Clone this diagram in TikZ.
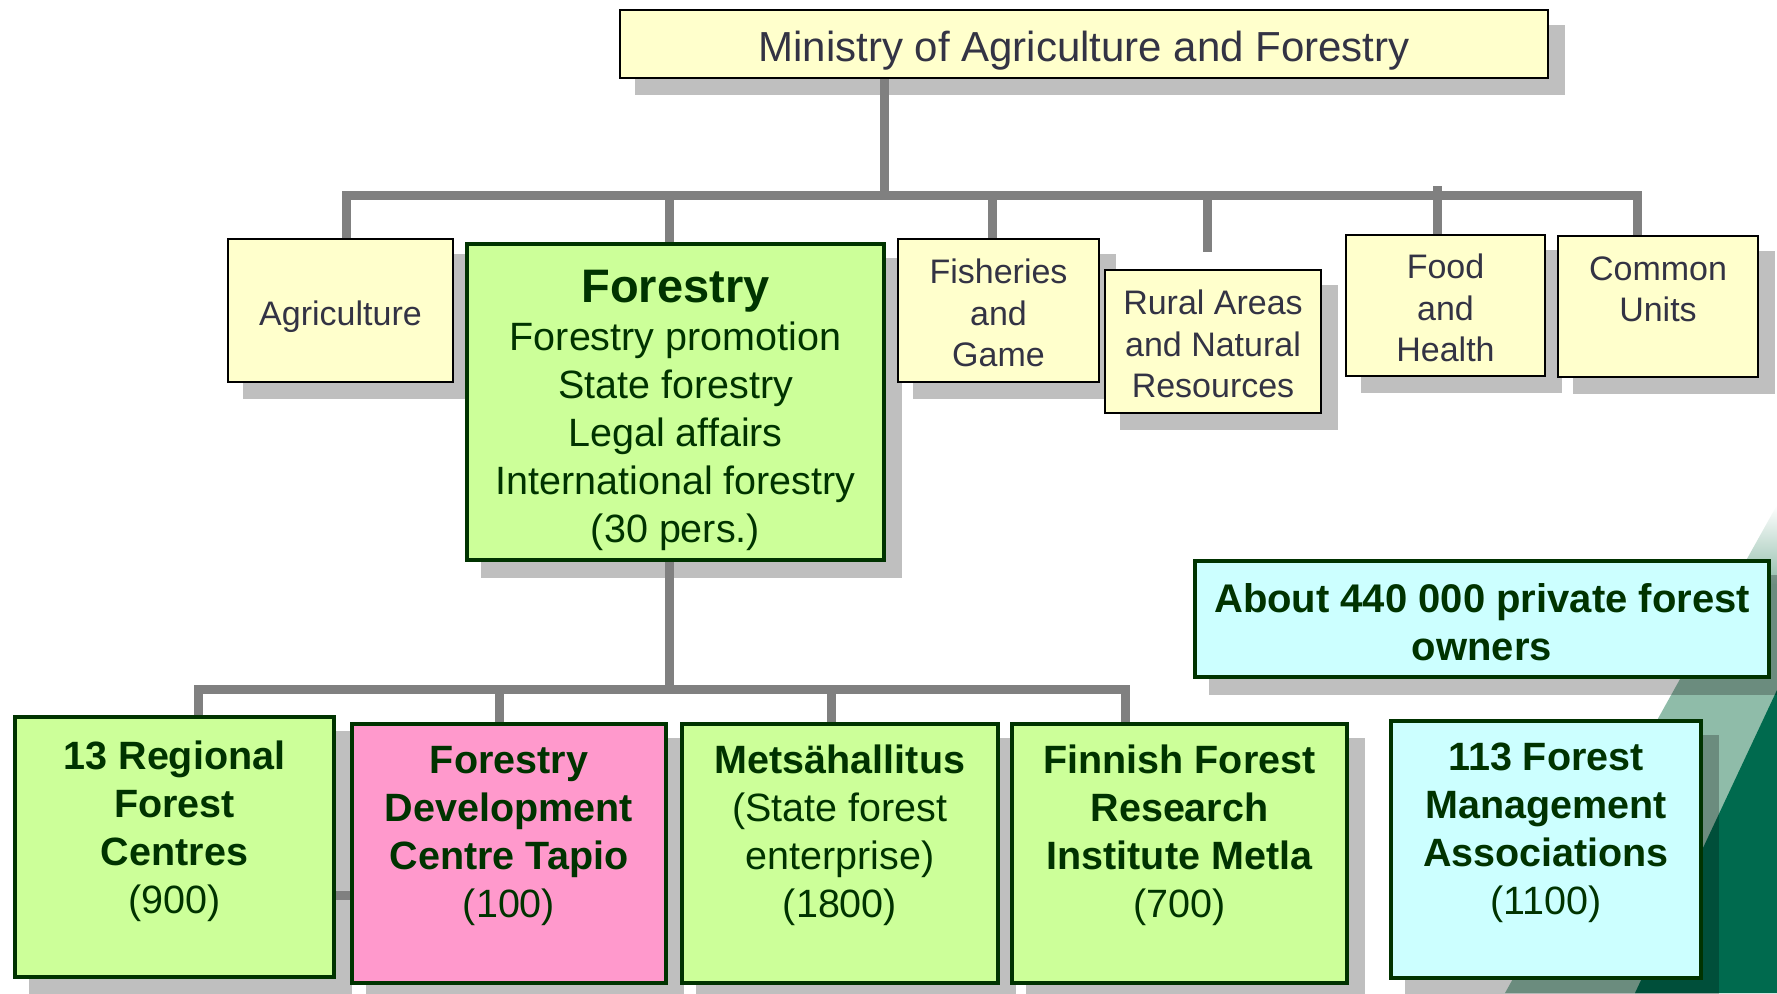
\documentclass[tikz,border=0pt]{standalone}
\usepackage{fontspec}
\setmainfont{Liberation Sans}
\usetikzlibrary{backgrounds}
\definecolor{yfill}{HTML}{FFFFCC}
\definecolor{gfill}{HTML}{CCFF99}
\definecolor{pfill}{HTML}{FF99CC}
\definecolor{cfill}{HTML}{CCFFFF}
\definecolor{dgreen}{HTML}{003300}
\definecolor{ytext}{HTML}{333344}
\definecolor{linegray}{HTML}{808080}
\definecolor{cornerdark}{HTML}{006A4E}
\definecolor{cornerlight}{HTML}{8FBCA9}
\tikzset{
  conn/.style={draw=linegray, line width=9pt},
  shd/.style={fill=black, fill opacity=0.25},
  ybox/.style={draw=black, line width=1.5pt, fill=yfill, inner sep=0pt},
  ytxt/.style={text=ytext, inner sep=0pt, align=center, font=\fontsize{34}{41.5}\selectfont},
  gbox/.style={draw=dgreen, line width=4.5pt, fill=gfill, inner sep=0pt},
  btxt/.style={text=dgreen, inner sep=0pt, align=center, font=\fontsize{39.5}{48}\selectfont},
}
\begin{document}
\begin{tikzpicture}[x=1pt,y=-1pt]
\useasboundingbox (0,0) rectangle (1777,993);

% top level
\node[ybox, minimum width=928pt, minimum height=68pt] (min) at (1084,44) {};
\node[ytxt, font=\fontsize{42}{50}\selectfont] (minT) at ([yshift=-7pt]min.center) {Ministry of Agriculture and Forestry};

% departments
\node[ybox, minimum width=225pt, minimum height=143pt] (agr) at (340.5,310.5) {};
\node[ytxt] (agrT) at ([yshift=-6pt]agr.center) {Agriculture};
\node[gbox, minimum width=417pt, minimum height=316pt] (for) at (675.5,402) {};
\node[btxt] (forT) at ([yshift=-8.5pt]for.center) {{\fontsize{47}{51}\selectfont\bfseries Forestry}\\[0.5pt]Forestry promotion\\State forestry\\Legal affairs\\International forestry\\(30 pers.)};
\node[ybox, minimum width=201pt, minimum height=143pt] (fis) at (998.5,310.5) {};
\node[ytxt] (fisT) at ([yshift=-2.5pt]fis.center) {Fisheries\\and\\Game};
\node[ybox, minimum width=216pt, minimum height=143pt] (rur) at (1213,341.5) {};
\node[ytxt] (rurT) at ([yshift=-2.5pt]rur.center) {Rural Areas\\and Natural\\Resources};
\node[ybox, minimum width=199pt, minimum height=141pt] (foo) at (1445.5,305.5) {};
\node[ytxt] (fooT) at ([yshift=-2.5pt]foo.center) {Food\\and\\Health};
\node[ybox, minimum width=200pt, minimum height=141pt] (com) at (1658,306.5) {};
\node[ytxt] (comT) at ([yshift=17pt]com.center) {Common\\Units};

% owners
\node[gbox, fill=cfill, minimum width=574pt, minimum height=116pt] (own) at (1482,619) {};
\node[btxt, font=\fontsize{40}{48}\selectfont\bfseries] (ownT) at ([yshift=-3pt]own.center) {About 440 000 private forest\\owners};

% bottom organisations
\node[gbox, minimum width=319pt, minimum height=260pt] (reg) at (174.5,847) {};
\node[btxt] (regT) at ([yshift=15.5pt]reg.center) {\textbf{13 Regional}\\\textbf{Forest}\\\textbf{Centres}\\(900)};
\node[gbox, fill=pfill, minimum width=314pt, minimum height=259pt] (dev) at (509,853.5) {};
\node[btxt] (devT) at ([yshift=17.5pt]dev.center) {\textbf{Forestry}\\\textbf{Development}\\\textbf{Centre Tapio}\\(100)};
\node[gbox, minimum width=316pt, minimum height=259pt] (met) at (840,853.5) {};
\node[btxt] (metT) at ([yshift=18.5pt]met.center) {\textbf{Metsähallitus}\\(State forest\\enterprise)\\(1800)};
\node[gbox, minimum width=335pt, minimum height=259pt] (fin) at (1179.5,853.5) {};
\node[btxt] (finT) at ([yshift=18.5pt]fin.center) {\textbf{Finnish Forest}\\\textbf{Research}\\\textbf{Institute Metla}\\(700)};
\node[gbox, fill=cfill, minimum width=310pt, minimum height=257pt] (fma) at (1546,849.5) {};
\node[btxt] (fmaT) at ([yshift=16.5pt]fma.center) {\textbf{113 Forest}\\\textbf{Management}\\\textbf{Associations}\\(1100)};

\begin{scope}[on background layer]
  % decorative corner
  \shade[top color=white, bottom color=cornerlight] (1777,505) -- (1777,585) -- (1732.4,585) -- cycle;
  \fill[cornerlight] (1777,584) -- (1777,993) -- (1505,993) -- (1733,584) -- cycle;
  \fill[cornerdark] (1777,690) -- (1777,993) -- (1635,993) -- cycle;
  % shadows
  \foreach \n in {min,agr,for,fis,rur,foo,com,own,reg,dev,met,fin,fma}
    \fill[shd] ([shift={(16pt,-16pt)}]\n.south west) rectangle ([shift={(16pt,-16pt)}]\n.north east);
  % connectors, upper tree
  \coordinate (t1) at (884,195);
  \draw[conn] (min.south -| t1) -- (t1);
  \draw[conn] (agr.north -| 346,0) -- (346,195) -- (1637,195) -- (com.north -| 1637,0);
  \draw[conn] (for.north -| 669,0) -- (669,195);
  \draw[conn] (fis.north -| 992,0) -- (992,195);
  \coordinate (rurstub) at (1207,252);
  \draw[conn] (rurstub |- t1) -- (rurstub);
  \draw[conn] (foo.north -| 1437,0) -- (1437,186);
  % connectors, lower tree
  \coordinate (t2) at (669,689);
  \draw[conn] (for.south -| t2) -- (t2);
  \draw[conn] (reg.north -| 198,0) -- (198,689) -- (1125,689) -- (fin.north -| 1125,0);
  \draw[conn] (dev.north -| 499,0) -- (499,689);
  \draw[conn] (met.north -| 831,0) -- (831,689);
  \draw[conn] (reg.east |- 0,895) -- (dev.west |- 0,895);
\end{scope}
\end{tikzpicture}
\end{document}
